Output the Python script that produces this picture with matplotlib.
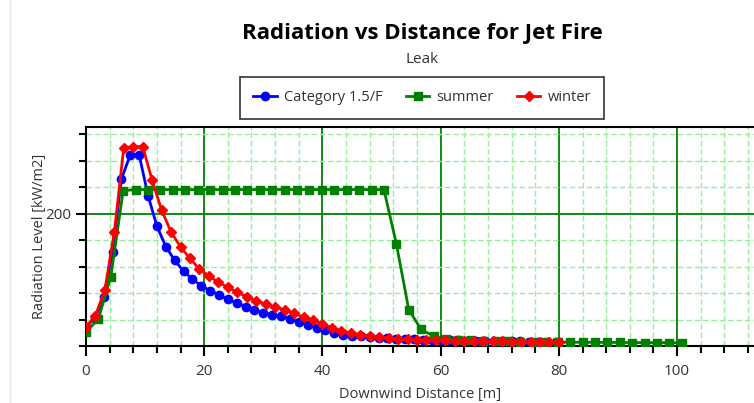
import matplotlib
matplotlib.use('Agg')
import matplotlib.pyplot as plt
from matplotlib.ticker import MultipleLocator
from matplotlib.lines import Line2D

plt.rcParams['font.family'] = ['Open Sans', 'DejaVu Sans']

# Category 1.5/F (blue)
x_cat = [0, 1.5, 3, 4.5, 6, 7.5, 9, 10.5, 12, 13.5, 15, 16.5, 18, 19.5, 21, 22.5,
         24, 25.5, 27, 28.5, 30, 31.5, 33, 34.5, 36, 37.5, 39, 40.5, 42, 43.5,
         45, 46.5, 48, 49.5, 51, 52.5, 54, 55.5, 57, 58.5, 60, 61.5, 63, 64.5,
         66, 67.5, 69, 70.5, 72, 73.5, 75, 76.5, 78, 79.5]
y_cat = [114.5, 121, 136.8, 171.1, 226.3, 244.6, 244.6, 213.8, 190.7, 175.2, 164.9,
         156.6, 150.6, 145.6, 141.8, 138.6, 135.3, 132.5, 129.8, 127.3, 125.0, 123.7,
         122.5, 120.5, 118.2, 116.2, 114.0, 111.8, 109.8, 108.6, 107.8, 107.2, 106.7,
         106.2, 105.8, 105.5, 105.2, 105.0, 104.8, 104.6, 104.4, 104.3, 104.2, 104.1,
         104.0, 103.9, 103.8, 103.7, 103.6, 103.5, 103.4, 103.3, 103.2, 103.1]

# summer (green)
x_sum = [0, 2.1, 4.2, 6.3, 8.4, 10.5, 12.6, 14.7, 16.8, 18.9, 21, 23.1, 25.2, 27.3,
         29.4, 31.5, 33.6, 35.7, 37.8, 39.9, 42, 44.1, 46.2, 48.3, 50.4, 52.5, 54.6,
         56.7, 58.8, 60.9, 63, 65.1, 67.2, 69.3, 71.4, 73.5, 75.6, 77.7, 79.8, 81.9,
         84, 86.1, 88.2, 90.3, 92.4, 94.5, 96.6, 98.7, 100.8]
y_sum = [110.5, 120.5, 152.3, 217.5, 218.3, 218.3, 218.3, 218.3, 218.3, 218.3, 218.3,
         218.3, 218.3, 218.3, 218.3, 218.3, 218.3, 218.3, 218.3, 218.3, 218.3, 218.3,
         218.3, 218.3, 218.3, 177.4, 127.5, 112.5, 107.5, 105.5, 104.6, 104.2, 103.9,
         103.7, 103.5, 103.3, 103.2, 103.1, 103.0, 102.9, 102.8, 102.8, 102.7, 102.7,
         102.6, 102.6, 102.5, 102.5, 102.4]

# winter (red)
x_win = [0, 1.6, 3.2, 4.8, 6.4, 8, 9.6, 11.2, 12.8, 14.4, 16, 17.6, 19.2, 20.8, 22.4,
         24, 25.6, 27.2, 28.8, 30.4, 32, 33.6, 35.2, 36.8, 38.4, 40, 41.6, 43.2, 44.8,
         46.4, 48, 49.6, 51.2, 52.8, 54.4, 56, 57.6, 59.2, 60.8, 62.4, 64, 65.6, 67.2,
         68.8, 70.4, 72, 73.6, 75.2, 76.8, 78.4, 80]
y_win = [114.3, 123.0, 142.5, 186.2, 250.1, 250.8, 250.8, 225.3, 202.7, 186.2, 174.9,
         166.2, 158.1, 153.1, 148.1, 144.4, 140.6, 137.3, 134.3, 131.6, 129.3, 127.5,
         124.8, 121.8, 119.4, 117.0, 113.8, 111.5, 110.0, 108.6, 107.6, 106.8, 106.1,
         105.6, 105.2, 104.9, 104.6, 104.4, 104.2, 104.0, 103.9, 103.8, 103.7, 103.6,
         103.5, 103.4, 103.3, 103.3, 103.2, 103.2, 103.1]

fig = plt.figure(figsize=(7.54, 4.03), dpi=100)
ax = fig.add_axes([0.114, 0.1414, 0.886, 0.5434])

ax.plot(x_cat, y_cat, '-o', color='#0000ff', lw=2, ms=6, label='Category 1.5/F', zorder=3)
ax.plot(x_sum, y_sum, '-s', color='#008000', lw=2, ms=6, label='summer', zorder=3)
ax.plot(x_win, y_win, '-D', color='#ff0000', lw=2, ms=5.5, label='winter', zorder=4)

ax.set_xlim(0, 113)
ax.set_ylim(100, 265.6)
ax.xaxis.set_major_locator(MultipleLocator(20))
ax.xaxis.set_minor_locator(MultipleLocator(4))
ax.yaxis.set_major_locator(MultipleLocator(200))
ax.yaxis.set_minor_locator(MultipleLocator(20))

ax.grid(which='minor', color='#99ee99', ls=(0, (4, 2)), lw=1)
ax.grid(which='major', color='#008000', ls='-', lw=1.3)
ax.set_axisbelow(True)

for s in ['left', 'bottom', 'top']:
    ax.spines[s].set_color('black')
    ax.spines[s].set_linewidth(1.5)
ax.spines['right'].set_visible(False)

ax.tick_params(which='major', direction='out', length=7, width=1.5, colors='black',
               labelcolor='#333333', labelsize=11)
ax.tick_params(axis='x', which='major', pad=6)
ax.tick_params(which='minor', direction='out', length=5, width=1.5, colors='black')

ax.set_xlabel('Downwind Distance [m]', fontsize=10.5, color='#333333', labelpad=6)
ax.set_ylabel('Radiation Level [kW/m2]', fontsize=10.5, color='#333333', labelpad=-1)

fig.text(0.56, 0.918, 'Radiation vs Distance for Jet Fire', ha='center', va='center',
         fontsize=16, fontweight='bold', color='black')
fig.text(0.56, 0.853, 'Leak', ha='center', va='center', fontsize=11, color='#333333')

leg = fig.legend(loc='center', bbox_to_anchor=(0.56, 0.757), ncol=3, fontsize=10.5,
                 frameon=True, fancybox=False, edgecolor='black', handlelength=1.6,
                 handletextpad=0.5, columnspacing=1.6, borderpad=0.9)
leg.get_frame().set_linewidth(1.2)
for t in leg.get_texts():
    t.set_color('#333333')

fig.add_artist(Line2D([0.013, 0.013], [0, 1], color='#e6e6e6', lw=1))

fig.savefig('out.png', dpi=100)
